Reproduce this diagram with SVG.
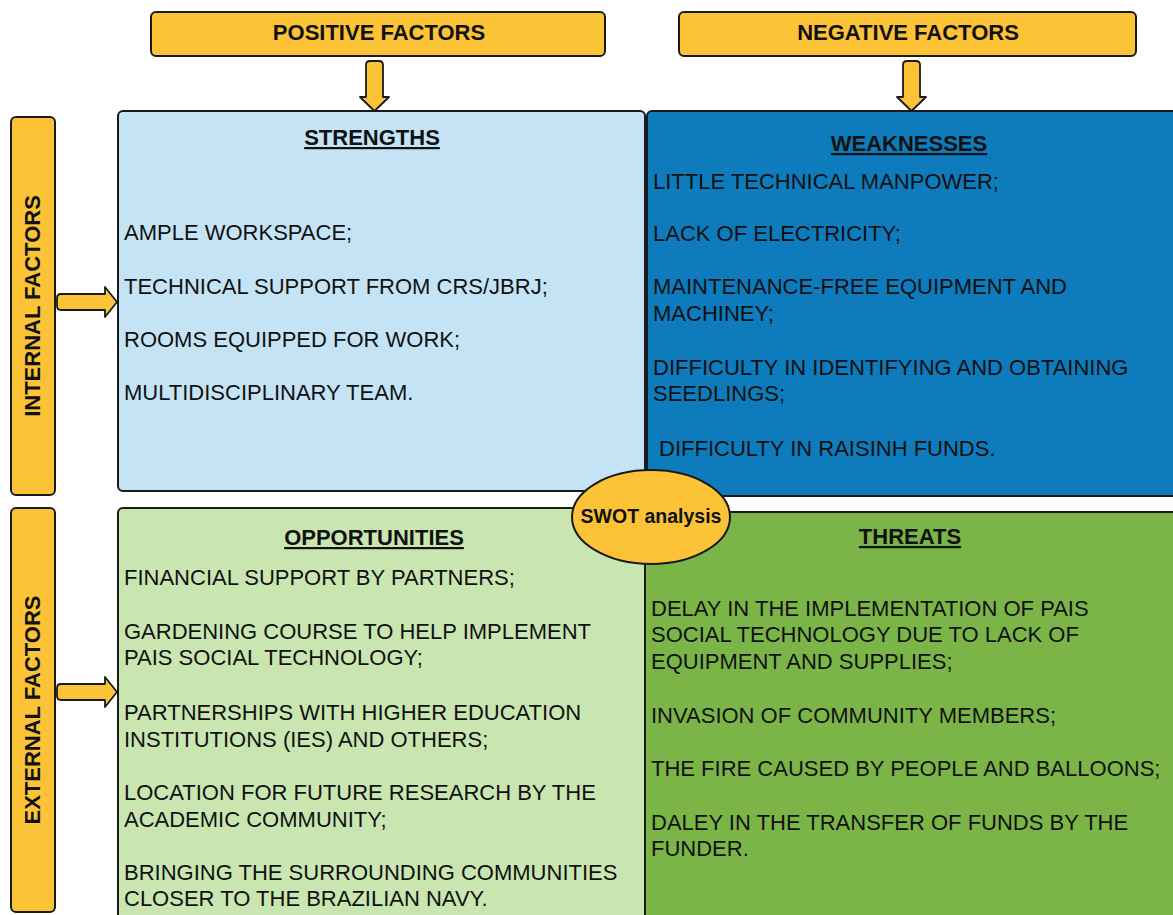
<svg xmlns="http://www.w3.org/2000/svg" width="1173" height="915" viewBox="0 0 1173 915">
<style>
.yb{fill:#FBC335;stroke:#1a1a1a;stroke-width:2}
.box{stroke:#1a1a1a;stroke-width:2}
.t{font-family:"Liberation Sans",Arial,sans-serif;font-size:22px;fill:#111}
.h{font-family:"Liberation Sans",Arial,sans-serif;font-size:22px;font-weight:bold;fill:#111;text-decoration:underline;text-anchor:middle}
.lb{font-family:"Liberation Sans",Arial,sans-serif;font-size:22px;font-weight:bold;fill:#111;text-anchor:middle}
.ar{fill:#FBC335;stroke:#1a1a1a;stroke-width:1.8;stroke-linejoin:round}
</style>
<rect width="1173" height="915" fill="#ffffff"/>
<g id="positive">
<rect class="yb" x="151" y="12" width="454" height="44" rx="5"/>
<text class="lb" x="379" y="40">POSITIVE FACTORS</text>
</g>
<g id="negative">
<rect class="yb" x="679" y="12" width="457" height="44" rx="5"/>
<text class="lb" x="908" y="40">NEGATIVE FACTORS</text>
</g>
<g id="internal">
<rect class="yb" x="11" y="117" width="44" height="378" rx="5"/>
<text class="lb" transform="translate(40,306) rotate(-90)">INTERNAL FACTORS</text>
</g>
<g id="external">
<rect class="yb" x="11" y="508" width="44" height="404" rx="5"/>
<text class="lb" transform="translate(40,710) rotate(-90)">EXTERNAL FACTORS</text>
</g>
<g id="strengths">
<rect class="box" x="118" y="111" width="527" height="380" rx="5" fill="#C4E4F6"/>
<text class="h" x="372" y="145">STRENGTHS</text>
<text class="t" x="124" y="240">AMPLE WORKSPACE;</text>
<text class="t" x="124" y="294">TECHNICAL SUPPORT FROM CRS/JBRJ;</text>
<text class="t" x="124" y="347">ROOMS EQUIPPED FOR WORK;</text>
<text class="t" x="124" y="400">MULTIDISCIPLINARY TEAM.</text>
</g>
<g id="weaknesses">
<rect class="box" x="647" y="111" width="540" height="385" rx="5" fill="#0E7BBC"/>
<text class="h" x="909" y="151">WEAKNESSES</text>
<text class="t" x="653" y="189">LITTLE TECHNICAL MANPOWER;</text>
<text class="t" x="653" y="241">LACK OF ELECTRICITY;</text>
<text class="t" x="653" y="294">MAINTENANCE-FREE EQUIPMENT AND</text>
<text class="t" x="653" y="321">MACHINEY;</text>
<text class="t" x="653" y="375">DIFFICULTY IN IDENTIFYING AND OBTAINING</text>
<text class="t" x="653" y="401">SEEDLINGS;</text>
<text class="t" x="659" y="456">DIFFICULTY IN RAISINH FUNDS.</text>
</g>
<g id="opportunities">
<rect class="box" x="118" y="508" width="527" height="420" rx="5" fill="#C9E6B1"/>
<text class="h" x="374" y="545">OPPORTUNITIES</text>
<text class="t" x="124" y="585">FINANCIAL SUPPORT BY PARTNERS;</text>
<text class="t" x="124" y="639">GARDENING COURSE TO HELP IMPLEMENT</text>
<text class="t" x="124" y="665">PAIS SOCIAL TECHNOLOGY;</text>
<text class="t" x="124" y="720">PARTNERSHIPS WITH HIGHER EDUCATION</text>
<text class="t" x="124" y="747">INSTITUTIONS (IES) AND OTHERS;</text>
<text class="t" x="124" y="800">LOCATION FOR FUTURE RESEARCH BY THE</text>
<text class="t" x="124" y="827">ACADEMIC COMMUNITY;</text>
<text class="t" x="124" y="880">BRINGING THE SURROUNDING COMMUNITIES</text>
<text class="t" x="124" y="906">CLOSER TO THE BRAZILIAN NAVY.</text>
</g>
<g id="threats">
<rect class="box" x="645" y="512" width="545" height="420" rx="5" fill="#7BB548"/>
<text class="h" x="910" y="544">THREATS</text>
<text class="t" x="651" y="616">DELAY IN THE IMPLEMENTATION OF PAIS</text>
<text class="t" x="651" y="642">SOCIAL TECHNOLOGY DUE TO LACK OF</text>
<text class="t" x="651" y="669">EQUIPMENT AND SUPPLIES;</text>
<text class="t" x="651" y="723">INVASION OF COMMUNITY MEMBERS;</text>
<text class="t" x="651" y="776">THE FIRE CAUSED BY PEOPLE AND BALLOONS;</text>
<text class="t" x="651" y="830">DALEY IN THE TRANSFER OF FUNDS BY THE</text>
<text class="t" x="651" y="856">FUNDER.</text>
</g>
<g id="connectors">
<path class="ar" d="M366 65 Q366 61 370 61 L379 61 Q383 61 383 65 L383 97 L389 97 L374.5 111 L360 97 L366 97 Z"/>
<path class="ar" d="M903 65 Q903 61 907 61 L916 61 Q920 61 920 65 L920 97 L926 97 L911.5 111 L897 97 L903 97 Z"/>
<path class="ar" d="M61 294 L105 294 L105 287 L117 302 L105 317 L105 310 L61 310 Q57 310 57 306 L57 298 Q57 294 61 294 Z"/>
<path class="ar" d="M61 684 L105 684 L105 677 L117 692 L105 707 L105 700 L61 700 Q57 700 57 696 L57 688 Q57 684 61 684 Z"/>
</g>
<g id="swot">
<ellipse cx="651" cy="517" rx="79" ry="47" fill="#FBC335" stroke="#1a1a1a" stroke-width="2"/>
<text class="lb" style="font-size:19.5px" x="651" y="523">SWOT analysis</text>
</g>
</svg>
